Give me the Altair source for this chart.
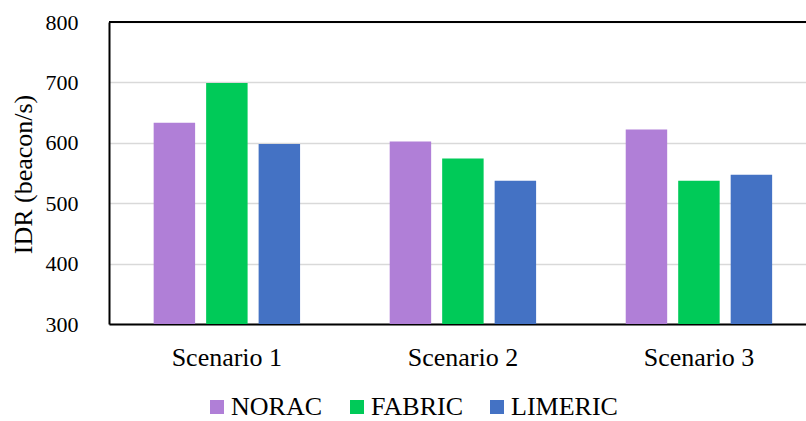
import altair as alt
import pandas as pd

# Inter-departure rate per scenario for each congestion-control scheme
scenarios = ["Scenario 1", "Scenario 2", "Scenario 3"]
schemes = ["NORAC", "FABRIC", "LIMERIC"]
norac = [633, 602, 622]
fabric = [699, 574, 537]
limeric = [598, 537, 547]
colors = ["#B07FD7", "#00CA58", "#4472C4"]

rows = []
for s, n, f, l in zip(scenarios, norac, fabric, limeric):
    rows.append({"scenario": s, "scheme": "NORAC", "idr": n})
    rows.append({"scenario": s, "scheme": "FABRIC", "idr": f})
    rows.append({"scenario": s, "scheme": "LIMERIC", "idr": l})
df = pd.DataFrame(rows)

FONT = "Liberation Serif"

y_scale = alt.Scale(domain=[300, 800], nice=False, zero=False)

bars = alt.Chart(df).mark_bar(clip=True).encode(
    x=alt.X(
        "scenario:N",
        sort=scenarios,
        scale=alt.Scale(paddingInner=0.333, paddingOuter=0.143, align=0.58),
        axis=alt.Axis(
            title=None,
            labelAngle=0,
            labelFont=FONT,
            labelFontSize=26,
            labelColor="#000000",
            labelPadding=20,
            ticks=False,
            tickSize=0,
            domain=True,
            domainColor="#000000",
            domainWidth=2,
            grid=False,
        ),
    ),
    xOffset=alt.XOffset(
        "scheme:N",
        sort=schemes,
        scale=alt.Scale(paddingInner=0.21, paddingOuter=0.105),
    ),
    y=alt.Y(
        "idr:Q",
        scale=y_scale,
        axis=alt.Axis(
            title="IDR (beacon/s)",
            values=[300, 400, 500, 600, 700, 800],
            labelFont=FONT,
            labelFontSize=22,
            labelColor="#000000",
            labelPadding=31,
            ticks=False,
            tickSize=0,
            domain=True,
            domainColor="#000000",
            domainWidth=2,
            grid=True,
            gridColor="#D9D9D9",
            gridWidth=1.5,
            titleFont=FONT,
            titleFontSize=26,
            titleFontWeight="normal",
            titleColor="#000000",
            titleAngle=-90,
            titleBaseline="middle",
            titleAlign="center",
            titleX=-86,
            titleY=152,
        ),
    ),
    color=alt.Color(
        "scheme:N",
        sort=schemes,
        scale=alt.Scale(domain=schemes, range=colors),
        legend=alt.Legend(
            title=None,
            orient="none",
            direction="horizontal",
            legendX=95,
            legendY=372,
            symbolType="square",
            symbolSize=196,
            symbolStrokeWidth=0,
            labelFont=FONT,
            labelFontSize=26,
            labelColor="#000000",
            labelOffset=1,
            labelLimit=300,
            columnPadding=21,
            padding=0,
        ),
    ),
)

# Frame line along the top of the plot area
top_line = alt.Chart(pd.DataFrame({"v": [800]})).mark_rule(
    color="#000000", strokeWidth=2
).encode(y=alt.Y("v:Q", scale=y_scale))

chart = alt.layer(bars, top_line).properties(
    width=697,
    height=302,
    padding={"left": 109, "top": 22, "right": 0, "bottom": 97},
    autosize=alt.AutoSizeParams(type="none"),
).configure_view(stroke=None).configure(background="#FFFFFF")

chart.save("out.html", embed_options={"renderer": "svg", "actions": False})
